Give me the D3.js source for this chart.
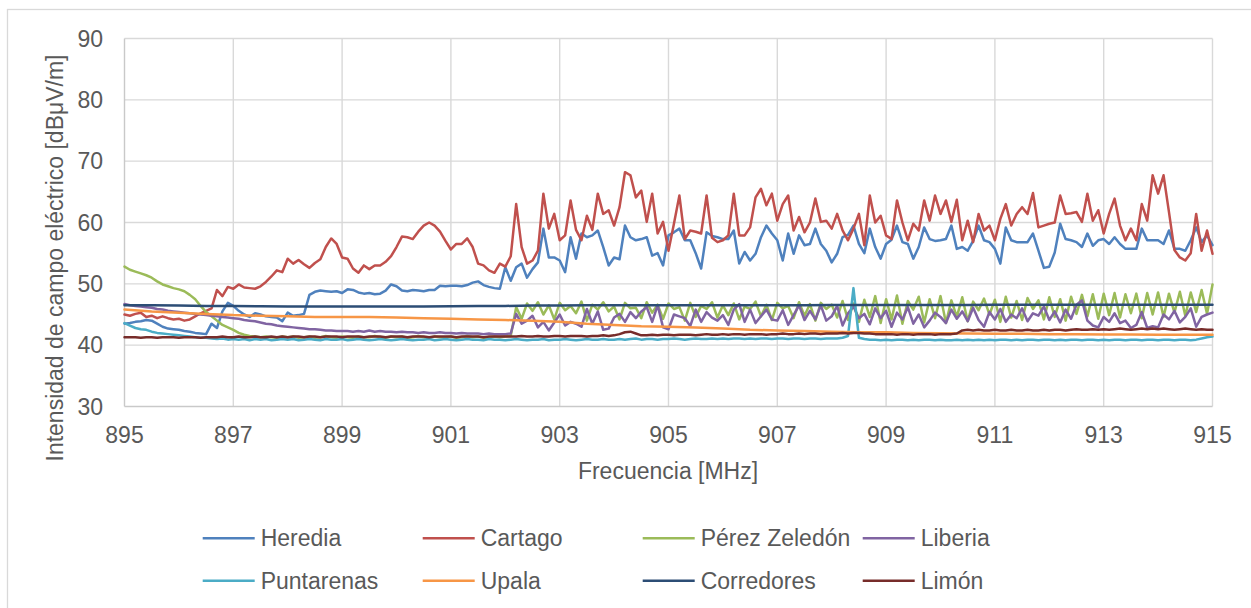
<!DOCTYPE html>
<html>
<head>
<meta charset="utf-8">
<script src="https://cdn.jsdelivr.net/npm/d3@7"></script>
<style>
  html, body { margin: 0; padding: 0; background: #fff; }
  svg { display: block; font-family: "Liberation Sans", Arial, sans-serif; }
</style>
</head>
<body>
<svg id="chart" width="1251" height="608"></svg>
<script>
// Measurement grid (MHz): fine series every 0.1 MHz, smooth series every 0.5 MHz
const freqFine = d3.range(0, 201).map((i) => 895 + i / 10);
const freqCoarse = d3.range(0, 41).map((i) => 895 + i / 2);

const xTicks = [895, 897, 899, 901, 903, 905, 907, 909, 911, 913, 915];
const yTicks = [30, 40, 50, 60, 70, 80, 90];

const heredia = [
  43.5, 43.6, 43.8, 43.9, 44.1, 44.0, 43.5, 43.0, 42.7, 42.6,
  42.5, 42.3, 42.2, 42.0, 41.9, 41.8, 43.5, 42.8, 45.5, 46.9,
  46.4, 45.6, 45.0, 44.6, 45.2, 45.0, 44.7, 44.6, 44.5, 43.9,
  45.3, 44.8, 44.9, 45.1, 48.2, 48.7, 48.9, 48.8, 48.7, 48.8,
  48.5, 49.1, 49.0, 48.6, 48.4, 48.5, 48.3, 48.4, 48.9, 49.9,
  49.6, 48.9, 48.8, 49.0, 48.9, 48.8, 49.0, 49.0, 49.7, 49.6,
  49.7, 49.7, 49.6, 49.8, 50.2, 50.4, 49.8, 49.5, 49.3, 49.2,
  52.7, 50.5, 52.7, 53.3, 51.0, 52.4, 53.5, 59.0, 54.3, 54.3,
  53.8, 51.9, 57.6, 54.1, 58.2, 57.6, 57.9, 58.7, 56.0, 53.0,
  54.3, 54.0, 59.5, 57.6, 57.1, 57.3, 57.6, 54.6, 55.0, 53.0,
  57.9, 58.4, 59.0, 57.1, 57.1, 55.0, 52.5, 58.4, 57.8, 57.6,
  57.3, 57.3, 58.7, 53.3, 55.2, 53.8, 54.9, 57.6, 59.5, 58.2,
  57.1, 53.8, 58.2, 54.9, 57.9, 56.3, 56.5, 59.0, 56.5, 55.4,
  53.5, 54.9, 57.6, 58.0, 59.5, 56.5, 55.0, 59.0, 56.0, 54.1,
  56.5, 57.2, 59.5, 56.8, 56.5, 54.1, 56.0, 59.2, 57.3, 57.0,
  57.1, 57.3, 59.5, 55.7, 56.0, 55.4, 57.0, 59.5, 57.1, 56.8,
  55.7, 53.3, 59.2, 57.1, 56.8, 56.8, 56.8, 58.2, 55.4, 52.6,
  52.8, 55.1, 59.8, 57.3, 57.1, 56.8, 56.0, 58.2, 56.2, 57.1,
  57.3, 56.5, 57.6, 56.5, 55.7, 55.7, 55.7, 59.0, 57.1, 57.1,
  57.1, 56.5, 58.7, 55.7, 55.7, 55.4, 57.1, 59.2, 56.8, 57.9,
  56.3,
];

const cartago = [
  45.0, 44.8, 45.1, 45.3, 44.6, 44.8, 44.4, 44.7, 44.4, 44.2,
  44.3, 44.0, 44.2, 44.7, 45.2, 45.6, 46.0, 49.0, 48.0, 49.5,
  49.2, 49.9, 49.4, 49.3, 49.2, 49.6, 50.3, 51.2, 52.2, 51.9,
  54.1, 53.3, 53.9, 53.2, 52.6, 53.4, 54.0, 56.0, 57.4, 56.5,
  54.3, 54.1, 52.5, 51.8, 53.0, 52.4, 53.0, 53.0, 53.6, 54.5,
  56.0, 57.7, 57.6, 57.3, 58.5, 59.5, 60.0, 59.5, 58.5, 57.0,
  55.6, 56.5, 56.5, 57.4, 56.0, 53.3, 53.0, 52.2, 51.8, 53.3,
  52.8, 54.5, 63.0, 56.0, 53.3, 53.8, 55.4, 64.7, 59.0, 61.4,
  57.1, 57.9, 63.6, 58.8, 57.1, 61.1, 58.8, 64.7, 61.4, 62.0,
  59.5, 62.5, 68.2, 67.7, 64.1, 65.2, 60.1, 64.7, 58.2, 60.1,
  55.4, 59.8, 64.4, 57.3, 58.7, 58.5, 58.2, 64.4, 57.5, 56.8,
  57.1, 57.9, 64.7, 57.9, 57.9, 59.2, 64.1, 65.5, 62.8, 64.7,
  60.3, 63.0, 64.4, 58.7, 60.9, 58.4, 60.0, 63.9, 60.1, 60.3,
  59.0, 61.4, 58.7, 57.1, 59.0, 61.4, 56.3, 64.4, 60.0, 61.1,
  57.9, 57.3, 63.6, 60.0, 57.1, 59.8, 58.7, 63.6, 60.3, 64.4,
  61.4, 63.6, 60.1, 63.7, 57.1, 60.3, 56.8, 61.4, 58.7, 59.5,
  57.1, 60.6, 63.0, 59.5, 61.4, 62.5, 61.4, 64.8, 59.2, 59.5,
  59.8, 60.0, 64.4, 61.4, 61.5, 61.7, 60.1, 64.7, 60.3, 62.0,
  58.2, 61.4, 63.9, 59.5, 57.1, 59.0, 57.1, 63.0, 60.3, 67.7,
  64.7, 67.7, 61.7, 55.5, 54.3, 53.8, 55.0, 61.4, 55.4, 58.7,
  54.9,
];

const perezZeledon = [
  52.8, 52.3, 52.0, 51.7, 51.4, 51.0, 50.4, 49.9, 49.6, 49.3,
  49.1, 48.8, 48.2, 47.5, 46.4, 45.4, 44.7, 44.0, 43.3, 42.9,
  42.5, 42.0, 41.7, 41.5, 41.4, 41.3, 41.4, 41.3, 41.2, 41.4,
  41.3, 41.4, 41.2, 41.3, 41.4, 41.2, 41.3, 41.5, 41.3, 41.2,
  41.4, 41.3, 41.2, 41.4, 41.3, 41.3, 41.5, 41.3, 41.2, 41.4,
  41.3, 41.4, 41.2, 41.3, 41.5, 41.3, 41.2, 41.4, 41.3, 41.3,
  41.4, 41.2, 41.3, 41.5, 41.3, 41.4, 41.2, 41.3, 41.4, 41.3,
  41.4, 41.5, 46.2, 44.3, 46.8, 45.6, 47.0, 45.0, 46.5, 44.2,
  46.9, 45.7, 46.4, 45.2, 47.1, 44.0, 46.6, 45.8, 47.0, 45.5,
  46.3, 44.2, 46.9, 46.0, 46.1, 44.4, 47.0, 45.3, 46.6, 44.3,
  46.8, 45.9, 46.2, 44.0, 46.9, 44.6, 46.4, 45.9, 47.0, 44.5,
  46.5, 44.9, 46.8, 44.2, 46.3, 45.9, 47.1, 44.7, 46.6, 44.1,
  46.9, 46.0, 46.4, 44.4, 47.0, 44.8, 46.7, 44.0, 46.9, 45.9,
  46.6, 44.5, 47.2, 44.1, 46.8, 43.8, 47.4, 44.6, 48.0, 43.6,
  47.5, 44.2, 48.1, 43.5, 47.2, 45.8, 47.9, 43.7, 47.5, 44.4,
  48.0, 43.6, 47.3, 44.6, 47.8, 43.9, 47.1, 45.7, 47.6, 45.0,
  47.4, 43.8, 47.9, 44.5, 47.2, 44.1, 47.7, 45.9, 47.3, 44.2,
  47.8, 44.6, 47.5, 44.0, 47.9, 45.1, 48.2, 44.7, 48.3, 44.3,
  48.4, 44.9, 48.5, 44.5, 48.3, 45.2, 48.4, 44.4, 48.5, 45.0,
  48.6, 44.6, 48.4, 45.3, 48.7, 44.8, 48.6, 45.4, 49.0, 45.1,
  49.9,
];

const liberia = [
  46.7, 46.5, 46.4, 46.3, 46.2, 46.1, 45.9, 45.8, 45.6, 45.5,
  45.4, 45.3, 45.2, 45.1, 45.0, 44.9, 44.8, 44.7, 44.6, 44.5,
  44.4, 44.3, 44.1, 44.0, 43.9, 43.7, 43.5, 43.4, 43.2, 43.1,
  43.0, 42.9, 42.8, 42.7, 42.6, 42.6, 42.5, 42.4, 42.4, 42.3,
  42.3, 42.3, 42.2, 42.3, 42.2, 42.4, 42.2, 42.3, 42.2, 42.2,
  42.1, 42.2, 42.1, 42.1, 42.0, 42.1, 42.0, 42.0, 42.1, 42.0,
  42.0, 41.9, 42.0, 41.9, 41.9, 41.9, 41.8, 41.9, 41.8, 41.8,
  41.8, 41.9, 45.1, 43.5, 44.0, 44.8, 42.9, 43.8, 42.4, 43.7,
  45.0, 43.2, 43.8, 43.5, 43.0, 45.9, 43.5, 45.5, 42.5, 42.7,
  44.5, 45.1, 43.8, 45.4, 44.4, 45.5, 46.2, 43.8, 46.5, 42.9,
  42.6, 45.0, 44.7, 44.4, 43.1, 45.8, 43.8, 45.4, 44.5, 44.0,
  44.9, 43.3, 45.8, 46.7, 43.8, 45.8, 43.6, 44.7, 45.8, 44.2,
  44.0, 45.7, 43.3, 44.9, 46.5, 44.1, 45.6, 44.2, 46.5, 44.0,
  44.7, 46.4, 43.2, 45.2, 46.3, 44.4, 45.1, 43.4, 46.0, 44.4,
  45.6, 43.0, 45.3, 44.2, 46.2, 43.5, 45.0, 42.9, 44.0, 45.3,
  44.6, 43.6, 45.8, 44.3, 45.5, 43.9, 46.1, 44.1, 43.0, 45.4,
  44.2, 45.9, 43.8, 45.0, 44.4, 46.0, 43.9, 45.2, 44.8, 46.3,
  44.1, 45.5, 43.7, 45.8, 44.3, 46.6, 47.3, 44.0, 43.2, 42.9,
  44.6, 43.8, 45.2, 43.6, 44.0, 42.8, 43.3, 45.4, 42.8, 43.1,
  42.9, 45.0, 44.2, 45.6, 43.7, 44.6, 46.0, 43.0, 44.6, 45.0,
  45.3,
];

const puntarenas = [
  43.6, 43.2, 42.8, 42.6, 42.5, 42.2, 42.0, 41.9, 41.8, 41.7,
  41.6, 41.5, 41.4, 41.3, 41.2, 41.2, 41.1, 41.0, 41.1, 40.9,
  41.0, 40.9, 41.0, 40.8, 41.0, 40.9, 41.0, 40.8, 40.9, 41.0,
  40.9, 41.0, 40.8, 40.9, 41.0, 40.9, 40.8, 41.0, 40.9, 40.9,
  41.0, 40.8, 40.9, 41.0, 40.9, 40.8, 40.9, 41.0, 40.9, 40.8,
  40.9, 41.0, 40.9, 40.8, 40.9, 40.9, 41.0, 40.8, 40.9, 41.0,
  40.9, 40.8, 40.9, 41.0, 40.9, 40.9, 40.8, 41.0, 40.9, 40.9,
  40.8, 40.9, 41.0, 40.9, 40.8, 40.9, 40.9, 41.0, 40.8, 40.9,
  40.9, 41.0, 40.9, 40.8, 40.9, 41.0, 40.9, 40.9, 41.0, 40.9,
  40.9, 41.0, 40.9, 41.0, 41.1, 40.9, 41.0, 41.0, 40.9, 41.0,
  41.0, 41.1, 41.0, 40.9, 41.0, 41.1, 41.0, 41.0, 41.1, 41.0,
  41.1, 41.0, 41.1, 41.1, 41.0, 41.1, 41.0, 41.1, 41.1, 41.0,
  41.1, 41.1, 41.0, 41.1, 41.1, 41.0, 41.1, 41.1, 41.0, 41.1,
  41.1, 41.1, 41.2, 41.5, 49.3, 41.2, 41.0, 40.9, 40.9, 40.8,
  40.9, 40.8, 40.9, 40.9, 40.8, 40.9, 40.8, 40.9, 40.9, 40.8,
  40.9, 40.8, 40.8, 40.9, 40.8, 40.9, 40.8, 40.9, 40.8, 40.9,
  40.8, 40.9, 40.9, 40.8, 40.9, 40.8, 40.9, 40.9, 40.8, 40.9,
  40.9, 40.8, 40.9, 40.8, 40.9, 40.9, 40.8, 40.9, 40.9, 40.8,
  40.9, 40.8, 40.9, 40.9, 40.8, 40.9, 40.9, 40.8, 40.9, 40.9,
  40.8, 40.9, 40.9, 40.8, 40.9, 40.9, 40.8, 40.9, 41.1, 41.3,
  41.4,
];

const upala = [
  45.8, 45.5, 45.3, 45.1, 44.9, 44.8, 44.7, 44.6, 44.6, 44.6,
  44.5, 44.4, 44.3, 44.2, 44.1, 44.0, 43.8, 43.5, 43.3, 43.1,
  43.0, 42.9, 42.7, 42.5, 42.4, 42.3, 42.2, 42.1, 42.1, 42.0,
  41.95, 41.9, 41.85, 41.85, 41.8, 41.8, 41.75, 41.75, 41.7, 41.7,
  41.7,
];

const corredores = [
  46.5, 46.5, 46.45, 46.4, 46.4, 46.35, 46.3, 46.3, 46.3, 46.3,
  46.3, 46.3, 46.35, 46.4, 46.4, 46.45, 46.45, 46.5, 46.5, 46.5,
  46.5, 46.5, 46.5, 46.5, 46.5, 46.5, 46.55, 46.55, 46.55, 46.55,
  46.55, 46.55, 46.6, 46.6, 46.6, 46.6, 46.6, 46.6, 46.6, 46.6,
  46.6,
];

const limon = [
  41.3, 41.3, 41.3, 41.2, 41.3, 41.3, 41.2, 41.3, 41.3, 41.3,
  41.2, 41.3, 41.3, 41.3, 41.2, 41.3, 41.3, 41.3, 41.4, 41.3,
  41.3, 41.4, 41.3, 41.3, 41.4, 41.3, 41.3, 41.4, 41.3, 41.4,
  41.3, 41.4, 41.4, 41.3, 41.4, 41.4, 41.3, 41.4, 41.4, 41.4,
  41.3, 41.4, 41.4, 41.4, 41.3, 41.4, 41.4, 41.4, 41.3, 41.4,
  41.4, 41.4, 41.3, 41.4, 41.4, 41.4, 41.3, 41.4, 41.4, 41.4,
  41.4, 41.3, 41.4, 41.4, 41.4, 41.4, 41.3, 41.4, 41.4, 41.4,
  41.4, 41.4, 41.4, 41.5, 41.4, 41.4, 41.5, 41.4, 41.4, 41.5,
  41.5, 41.4, 41.5, 41.5, 41.5, 41.4, 41.5, 41.5, 41.6, 41.5,
  41.6, 41.8, 42.1, 42.2, 41.9, 41.6, 41.6, 41.7, 41.6, 41.7,
  41.7, 41.6, 41.7, 41.7, 41.7, 41.6, 41.7, 41.8, 41.7, 41.7,
  41.8, 41.7, 41.8, 41.8, 41.7, 41.8, 41.8, 41.8, 41.7, 41.8,
  41.8, 41.9, 41.8, 41.8, 41.9, 41.8, 41.9, 41.9, 41.8, 41.9,
  41.9, 41.9, 42.0, 41.9, 42.0, 42.0, 41.9, 41.9, 41.8, 41.8,
  41.8, 41.8, 41.7, 41.8, 41.8, 41.7, 41.8, 41.8, 41.8, 41.7,
  41.8, 41.8, 41.8, 41.9, 42.4, 42.5, 42.4, 42.5, 42.4, 42.4,
  42.5, 42.4, 42.4, 42.5, 42.4, 42.4, 42.5, 42.4, 42.4, 42.5,
  42.4, 42.5, 42.5, 42.4, 42.5, 42.6, 42.5, 42.5, 42.6, 42.5,
  42.6, 42.5, 42.6, 42.7, 42.6, 42.5, 42.6, 42.7, 42.6, 42.7,
  42.6, 42.7, 42.6, 42.5, 42.6, 42.7, 42.6, 42.5, 42.6, 42.5,
  42.5,
];

// Series in drawing order (later ones sit on top)
const series = [
  { name: "Heredia", color: "#4F81BD", x: freqFine, y: heredia },
  { name: "Cartago", color: "#C0504D", x: freqFine, y: cartago },
  { name: "Pérez Zeledón", color: "#9BBB59", x: freqFine, y: perezZeledon },
  { name: "Liberia", color: "#8064A2", x: freqFine, y: liberia },
  { name: "Puntarenas", color: "#4BACC6", x: freqFine, y: puntarenas },
  { name: "Upala", color: "#F79646", x: freqCoarse, y: upala },
  { name: "Corredores", color: "#2C4D75", x: freqCoarse, y: corredores },
  { name: "Limón", color: "#772C2A", x: freqFine, y: limon },
];

const textColor = "#595959";
const gridColor = "#D9D9D9";
const fontSize = 23;

const svg = d3.select("#chart");

// Chart area border
svg.append("rect")
  .attr("x", 7.5).attr("y", 9.5)
  .attr("width", 1270).attr("height", 620)
  .attr("fill", "#fff")
  .attr("stroke", gridColor)
  .attr("stroke-width", 1.3);

const x = d3.scaleLinear().domain([895, 915]).range([124.5, 1212.5]);
const y = d3.scaleLinear().domain([30, 90]).range([406.5, 38.5]);

// Gridlines
svg.append("g")
  .selectAll("line.h")
  .data(yTicks.slice(1))
  .join("line")
  .attr("x1", x(895)).attr("x2", x(915))
  .attr("y1", (d) => y(d)).attr("y2", (d) => y(d))
  .attr("stroke", gridColor).attr("stroke-width", 1.4);

svg.append("g")
  .selectAll("line.v")
  .data(xTicks.slice(1))
  .join("line")
  .attr("x1", (d) => x(d)).attr("x2", (d) => x(d))
  .attr("y1", y(90)).attr("y2", y(30))
  .attr("stroke", gridColor).attr("stroke-width", 1.4);

// Axis lines
svg.append("line")
  .attr("x1", x(895)).attr("x2", x(895))
  .attr("y1", y(90)).attr("y2", y(30))
  .attr("stroke", "#C9C9C9").attr("stroke-width", 1.4);
svg.append("line")
  .attr("x1", x(895)).attr("x2", x(915))
  .attr("y1", y(30)).attr("y2", y(30))
  .attr("stroke", "#C9C9C9").attr("stroke-width", 1.4);

// Tick labels
svg.append("g")
  .selectAll("text")
  .data(yTicks)
  .join("text")
  .attr("x", 103)
  .attr("y", (d) => y(d))
  .attr("dy", "0.35em")
  .attr("text-anchor", "end")
  .attr("font-size", fontSize)
  .attr("fill", textColor)
  .text((d) => d);

svg.append("g")
  .selectAll("text")
  .data(xTicks)
  .join("text")
  .attr("x", (d) => x(d))
  .attr("y", 443)
  .attr("text-anchor", "middle")
  .attr("font-size", fontSize)
  .attr("fill", textColor)
  .text((d) => d);

// Axis titles
svg.append("text")
  .attr("transform", "translate(63,258) rotate(-90)")
  .attr("text-anchor", "middle")
  .attr("font-size", fontSize)
  .attr("fill", textColor)
  .text("Intensidad de campo eléctrico [dBμV/m]");

svg.append("text")
  .attr("x", 668)
  .attr("y", 479)
  .attr("text-anchor", "middle")
  .attr("font-size", fontSize)
  .attr("fill", textColor)
  .text("Frecuencia [MHz]");

// Data lines
const line = d3.line()
  .x((d) => x(d[0]))
  .y((d) => y(d[1]));

svg.append("g")
  .selectAll("path")
  .data(series)
  .join("path")
  .attr("d", (s) => line(d3.zip(s.x, s.y)))
  .attr("fill", "none")
  .attr("stroke", (s) => s.color)
  .attr("stroke-width", 2.5)
  .attr("stroke-linejoin", "round")
  .attr("stroke-linecap", "round");

// Legend: two rows of four
const legend = svg.append("g")
  .selectAll("g")
  .data(series)
  .join("g")
  .attr("transform", (s, i) => `translate(${202.7 + (i % 4) * 220},${i < 4 ? 538.3 : 580.7})`);

legend.append("line")
  .attr("x1", 0).attr("x2", 52)
  .attr("stroke", (s) => s.color)
  .attr("stroke-width", 2.6);

legend.append("text")
  .attr("x", 58)
  .attr("y", 8)
  .attr("font-size", fontSize)
  .attr("fill", textColor)
  .text((s) => s.name);
</script>
</body>
</html>
